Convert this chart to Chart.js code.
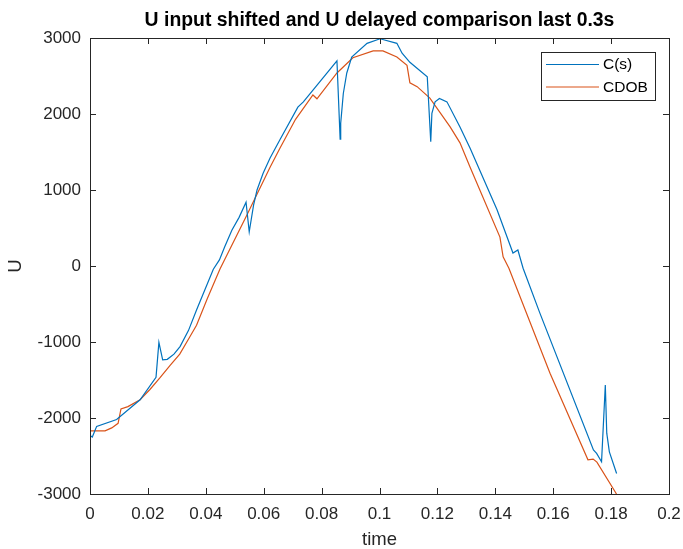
<!DOCTYPE html>
<html>
<head>
<meta charset="utf-8">
<script src="https://cdn.jsdelivr.net/npm/chart.js@4.4.1/dist/chart.umd.min.js"></script>
<style>
  html, body { margin: 0; padding: 0; background: #fff; }
  #wrap { width: 683px; height: 549px; }
</style>
</head>
<body>
<div id="wrap"><canvas id="uChart"></canvas></div>
<script>
// Time samples and values for the two signals
const tCs = [0, 0.0008, 0.0023, 0.0092, 0.0173, 0.0228, 0.0238, 0.0251, 0.0267, 0.029, 0.0311, 0.034,
  0.0368, 0.0426, 0.0447, 0.0465, 0.049, 0.0515, 0.0539, 0.055, 0.0565, 0.0577, 0.0598, 0.0622, 0.0656,
  0.0718, 0.0737, 0.0853, 0.0864, 0.0866, 0.0875, 0.0887, 0.0904, 0.0957, 0.1002, 0.106, 0.1078, 0.1105,
  0.1165, 0.1177, 0.1181, 0.1192, 0.1207, 0.1233, 0.1278, 0.1313, 0.1406, 0.1461, 0.1478, 0.1496, 0.1554,
  0.1739, 0.175, 0.1767, 0.178, 0.1785, 0.1794, 0.1819];
const cs = [-2230, -2250, -2110, -2020, -1760, -1465, -1005, -1235, -1228, -1160, -1060, -850,
  -580, -43, 80, 250, 470, 640, 840, 450, 800, 1000, 1220, 1420, 1660,
  2090, 2160, 2700, 1670, 1880, 2270, 2540, 2750, 2930, 2990, 2930, 2800, 2680,
  2490, 1635, 2010, 2160, 2205, 2160, 1830, 1550, 740, 170, 210, -30, -620,
  -2420, -2465, -2575, -1565, -2200, -2445, -2730];

const tCdob = [0, 0.0052, 0.0075, 0.0097, 0.0107, 0.0131, 0.0173, 0.0207, 0.0242, 0.0276, 0.031,
  0.0345, 0.0368, 0.0405, 0.0449, 0.0542, 0.0622, 0.0656, 0.071, 0.077, 0.0784, 0.0853, 0.0908, 0.0978,
  0.1012, 0.106, 0.1095, 0.1105, 0.113, 0.1174, 0.1244, 0.1278, 0.1313, 0.1416, 0.1427, 0.1447, 0.1589,
  0.172, 0.1738, 0.1751, 0.1817, 0.1825];
const cdob = [-2170, -2170, -2130, -2070, -1880, -1850, -1760, -1625, -1470, -1310, -1160,
  -930, -780, -430, -40, 670, 1300, 1550, 1930, 2250, 2200, 2540, 2740, 2830,
  2830, 2750, 2640, 2410, 2360, 2210, 1830, 1620, 1300, 380, 120, -30, -1410,
  -2550, -2540, -2580, -2990, -3060];

const seriesNames = ['C(s)', 'CDOB'];
const seriesColors = ['#0072BD', '#D95319'];

const xTickValues = [0, 0.02, 0.04, 0.06, 0.08, 0.1, 0.12, 0.14, 0.16, 0.18, 0.2];
const yTickValues = [-3000, -2000, -1000, 0, 1000, 2000, 3000];

const chartTitle = 'U input shifted and U delayed comparison last 0.3s';
const xLabel = 'time';
const yLabel = 'U';

const FONT = "'Liberation Sans', Arial, Helvetica, sans-serif";
const AXIS = '#262626';

const toPoints = (xs, ys) => xs.map((x, i) => ({ x: x, y: ys[i] }));

// box, inward ticks, title and legend in MATLAB style
const matlabFrame = {
  id: 'matlabFrame',
  afterDraw(chart) {
    const { ctx, chartArea: a, scales } = chart;
    const tick = 6;
    ctx.save();
    ctx.strokeStyle = AXIS;
    ctx.lineWidth = 1;
    ctx.beginPath();
    xTickValues.forEach(v => {
      const px = Math.round(scales.x.getPixelForValue(v)) + 0.5;
      ctx.moveTo(px, a.bottom); ctx.lineTo(px, a.bottom - tick);
      ctx.moveTo(px, a.top); ctx.lineTo(px, a.top + tick);
    });
    yTickValues.forEach(v => {
      const py = Math.round(scales.y.getPixelForValue(v)) + 0.5;
      ctx.moveTo(a.left, py); ctx.lineTo(a.left + tick, py);
      ctx.moveTo(a.right, py); ctx.lineTo(a.right - tick, py);
    });
    ctx.stroke();
    ctx.strokeRect(Math.round(a.left) + 0.5, Math.round(a.top) + 0.5,
      Math.round(a.right - a.left), Math.round(a.bottom - a.top));

    // title centred over the axes
    ctx.fillStyle = '#000';
    ctx.font = 'bold 19.4px ' + FONT;
    ctx.textAlign = 'center';
    ctx.textBaseline = 'middle';
    ctx.fillText(chartTitle, (a.left + a.right) / 2, 21);

    // legend box in the top right corner
    const lx = a.right - 128, ly = a.top + 14, lw = 114, lh = 48;
    ctx.fillStyle = '#fff';
    ctx.fillRect(lx, ly, lw, lh);
    ctx.strokeStyle = AXIS;
    ctx.strokeRect(lx + 0.5, ly + 0.5, lw, lh);
    ctx.font = '15.5px ' + FONT;
    ctx.textAlign = 'left';
    seriesNames.forEach((name, i) => {
      const yy = ly + 12.5 + i * 22.5;
      ctx.strokeStyle = seriesColors[i];
      ctx.lineWidth = 1.2;
      ctx.beginPath();
      ctx.moveTo(lx + 5, yy); ctx.lineTo(lx + 58, yy);
      ctx.stroke();
      ctx.fillStyle = '#000';
      ctx.fillText(name, lx + 62, yy + 0.5);
    });
    ctx.restore();
  }
};

new Chart(document.getElementById('uChart'), {
  type: 'line',
  data: {
    datasets: [
      { label: seriesNames[0], data: toPoints(tCs, cs), borderColor: seriesColors[0] },
      { label: seriesNames[1], data: toPoints(tCdob, cdob), borderColor: seriesColors[1] }
    ]
  },
  options: {
    responsive: true,
    maintainAspectRatio: false,
    animation: false,
    layout: { padding: { top: 38, right: 14, left: 0, bottom: 0 } },
    elements: {
      point: { radius: 0 },
      line: { borderWidth: 1.2, tension: 0 }
    },
    plugins: {
      legend: { display: false },
      tooltip: { enabled: false },
      title: { display: false }
    },
    scales: {
      x: {
        type: 'linear',
        min: 0,
        max: 0.2,
        afterBuildTicks: s => { s.ticks = xTickValues.map(v => ({ value: v })); },
        afterFit: s => { s.height = 55; s.paddingLeft = 0; s.paddingRight = 0; },
        grid: { display: false, drawTicks: false },
        border: { display: false },
        ticks: {
          padding: 10,
          color: AXIS,
          font: { family: FONT, size: 17 },
          callback: v => String(+v.toFixed(2))
        },
        title: {
          display: true, text: xLabel, color: AXIS,
          font: { family: FONT, size: 18.5, lineHeight: 1 },
          padding: 0
        }
      },
      y: {
        type: 'linear',
        min: -3000,
        max: 3000,
        afterBuildTicks: s => { s.ticks = yTickValues.map(v => ({ value: v })); },
        afterFit: s => { s.width = 90; s.paddingTop = 0; s.paddingBottom = 0; },
        grid: { display: false, drawTicks: false },
        border: { display: false },
        ticks: {
          padding: 9,
          color: AXIS,
          font: { family: FONT, size: 17 },
          callback: v => String(v)
        },
        title: {
          display: true, text: yLabel, color: AXIS,
          font: { family: FONT, size: 18.5, lineHeight: 1 },
          padding: { top: 7, bottom: 0 }
        }
      }
    }
  },
  plugins: [matlabFrame]
});
</script>
</body>
</html>
